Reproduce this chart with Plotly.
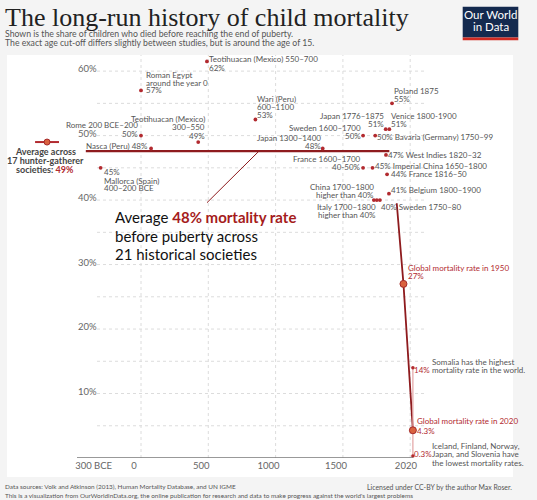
import plotly.graph_objects as go

# ---------------- data ----------------
society_names = [
    "Mallorca (Spain) 400–200 BCE", "Rome 200 BCE–200", "Roman Egypt", "Nasca (Peru)",
    "Teotihuacan (Mexico) 300–550", "Teotihuacan (Mexico) 550–700", "Wari (Peru) 600–1100",
    "Japan 1300–1400", "Sweden 1600–1700", "France 1600–1700", "Imperial China 1650–1800",
    "Bavaria (Germany) 1750–99", "China 1700–1800", "Italy 1700–1800", "Sweden 1750–80",
    "Japan 1776–1875", "West Indies 1820–32", "France 1816–50", "Belgium 1800–1900",
    "Venice 1800-1900", "Poland 1875",
]
society_years = [-300, 0, 0, 75, 425, 490, 850, 1350, 1650, 1650, 1720, 1740,
                 1730, 1752, 1775, 1818, 1820, 1828, 1842, 1845, 1865]
society_mortality = [45, 50, 57, 48, 49, 61.5, 52.5, 48, 50, 45, 45, 50,
                     40, 40, 40, 51, 47, 44, 41, 51, 55]

historical_avg = 47.6   # labelled "48%" in the chart
historical_avg_span = [-410, 1845]

hunter_avg = 49
hunter_pos = -698
hunter_spread = 89

global_years = [1900, 1950, 2020]
global_mortality = [39.5, 27, 4.3]

extreme_years = [2020, 2020]
extreme_mortality = [14, 0.3]   # Somalia (highest), lowest countries

x_tickvals = [-300, 0, 500, 1000, 1500, 2020]
x_ticktext = ["300 BCE", "0", "500", "1000", "1500", "2020"]
y_tickvals = [10, 20, 30, 40, 50, 60]
y_ticktext = ["10%", "20%", "30%", "40%", "50%", "60%"]
y_grid = [5, 10, 15, 20, 25, 30, 35, 40, 45, 50, 55, 60]
x_grid = [0, 500, 1000, 1500, 2000]

# label text lines + layout (anchor, x offset px, y offsets px per line)
society_labels = [
    (["45%", "Mallorca (Spain)", "400–200 BCE"], "left", 3, [-4, -12.7, -20.3]),
    (["Rome 200 BCE–200", "50%"], "right", -3, [10.4, 2]),
    (["Roman Egypt", "around the year 0", "57%"], "left", 5, [15.4, 7.7, 0]),
    (["Nasca (Peru) 48%"], "right", -3, [2.5]),
    (["Teotihuacan (Mexico)", "300–550", "49%"], "right", 7, [22.7, 14.7, 6.4]),
    (["Teotihuacan (Mexico) 550–700", "62%"], "left", 2, [2.7, -6.3]),
    (["Wari (Peru)", "600–1100", "53%"], "left", 2, [20.3, 12.7, 4.3]),
    (["Japan 1300–1400", "48%"], "right", -2, [10.5, 2.5]),
    (["Sweden 1600–1700", "50%"], "right", -2, [8, 0]),
    (["France 1600–1700", "40-50%"], "right", -2, [9, 0.7]),
    (["45% Imperial China 1650–1800"], "left", 2, [2]),
    (["50% Bavaria (Germany) 1750–99"], "left", 2, [-1]),
    (["China 1700–1800", "higher than 40%"], "right", 0, [13.4, 5.4]),
    (["Italy 1700–1800", "higher than 40%"], "right", -1, [-6.6, -15]),
    (["40% Sweden 1750–80"], "left", 1, [-6.6]),
    (["Japan 1776–1875", "51%"], "right", -2, [13, 4.7]),
    (["47% West Indies 1820–32"], "left", 2, [0]),
    (["44% France 1816–50"], "left", 4, [0]),
    (["41% Belgium 1800–1900"], "left", 2, [3.3]),
    (["Venice 1800-1900", "51%"], "left", 1.5, [13, 4.7]),
    (["Poland 1875", "55%"], "left", 2, [12.6, 4.3]),
]

# ---------------- layout geometry ----------------
W, H = 537, 500
PL, PR, PT, PB = 30, 427, 55, 458
X_RANGE = [-824.7, 2124.8]
Y_RANGE = [0, 62.5]

def px_x(px):
    return (px - PL) / (PR - PL)

def px_y(py):
    return (PB - py) / (PB - PT)

def yr_at(px):
    return X_RANGE[0] + (px - PL) / (PR - PL) * (X_RANGE[1] - X_RANGE[0])

GRAY = "#555555"
RED = "#b22a2f"
DARKRED = "#8e1b1e"
FONT = "Lato"
LBL = 8.0

fig = go.Figure()

# historical average line
fig.add_trace(go.Scatter(x=historical_avg_span, y=[historical_avg] * 2, mode="lines",
                         line=dict(color=DARKRED, width=2.3), hoverinfo="skip"))
# global trend
fig.add_trace(go.Scatter(x=global_years, y=global_mortality, mode="lines",
                         line=dict(color=DARKRED, width=1.8), hoverinfo="skip"))
# 2020 country range
fig.add_trace(go.Scatter(x=extreme_years, y=extreme_mortality, mode="lines+markers",
                         line=dict(color="#e3a3a3", width=1.2),
                         marker=dict(color=RED, size=3.5), hoverinfo="skip"))
# global markers 1950, 2020
fig.add_trace(go.Scatter(x=global_years[1:], y=global_mortality[1:], mode="markers",
                         marker=dict(color="#d9623f", size=7, line=dict(color="#a52a2a", width=1)),
                         hoverinfo="skip"))
# societies
fig.add_trace(go.Scatter(x=society_years, y=society_mortality, mode="markers",
                         marker=dict(color=RED, size=3.8), text=society_names,
                         hoverinfo="text"))
# hunter-gatherer
fig.add_trace(go.Scatter(x=[hunter_pos], y=[hunter_avg], mode="markers",
                         marker=dict(color="#d9623f", size=6, line=dict(color="#a52a2a", width=1)),
                         error_x=dict(type="constant", value=hunter_spread, color=RED,
                                      thickness=2, width=0),
                         hoverinfo="skip"))

shapes = []
# white panel
shapes.append(dict(type="rect", xref="paper", yref="paper", x0=px_x(7), x1=px_x(513),
                   y0=px_y(477), y1=px_y(55), fillcolor="white", line=dict(width=0), layer="below"))
# gridlines
for g in y_grid:
    shapes.append(dict(type="line", xref="x", yref="y", x0=yr_at(97), x1=X_RANGE[1], y0=g, y1=g,
                       line=dict(color="#dcdcdc", width=1, dash="dot"), layer="below"))
for g in x_grid:
    shapes.append(dict(type="line", xref="x", yref="y", x0=g, x1=g, y0=0, y1=Y_RANGE[1],
                       line=dict(color="#dcdcdc", width=1, dash="dot"), layer="below"))
# x axis line
shapes.append(dict(type="line", xref="x", yref="y", x0=yr_at(77), x1=yr_at(413), y0=0, y1=0,
                   line=dict(color="#777777", width=1.5)))
# connector from average line to annotation
shapes.append(dict(type="line", xref="x", yref="y", x0=yr_at(259), x1=yr_at(207),
                   y0=historical_avg, y1=39.6, line=dict(color=DARKRED, width=1)))
# logo
shapes.append(dict(type="rect", xref="paper", yref="paper", x0=px_x(462.7), x1=px_x(518.3),
                   y0=px_y(37.5), y1=px_y(6.7), fillcolor="#142a4f", line=dict(width=0)))
shapes.append(dict(type="rect", xref="paper", yref="paper", x0=px_x(462.7), x1=px_x(518.3),
                   y0=px_y(40.2), y1=px_y(37.5), fillcolor="#d02a22", line=dict(width=0)))

ann = []

def label(x, y, lines, anchor, dx, dys, color=GRAY, size=LBL):
    for t, dy in zip(lines, dys):
        ann.append(dict(x=x, y=y, xref="x", yref="y", text=t, showarrow=False,
                        xanchor=anchor, yanchor="middle", xshift=dx, yshift=dy,
                        borderpad=0, borderwidth=0,
                        font=dict(family=FONT, size=size, color=color)))

def ptext(px, py, text, anchor="left", size=9, color=GRAY, family=FONT):
    ann.append(dict(x=px_x(px), y=px_y(py), xref="paper", yref="paper", text=text,
                    showarrow=False, xanchor=anchor, yanchor="middle", borderpad=0,
                    borderwidth=0, font=dict(family=family, size=size, color=color)))

for (lines, anchor, dx, dys), xv, yv in zip(society_labels, society_years, society_mortality):
    label(xv, yv, lines, anchor, dx, dys)

# global labels
label(global_years[1], global_mortality[1], ["Global mortality rate in 1950", "27%"],
      "left", 5, [16, 8.3], color=RED)
label(global_years[2], global_mortality[2], ["Global mortality rate in 2020", "4.3%"],
      "left", 4, [9, -0.3], color=RED)
label(extreme_years[0], extreme_mortality[0], ["14%"], "left", 1.6, [-2.3], color=RED)
label(extreme_years[0], extreme_mortality[0],
      ["Somalia has the highest", "mortality rate in the world."], "left", 19.3, [5.7, -2.3])
label(extreme_years[1], extreme_mortality[1], ["0.3%"], "left", 1.6, [2.3], color=RED)
label(extreme_years[1], extreme_mortality[1],
      ["Iceland, Finland, Norway,", "Japan, and Slovenia have", "the lowest mortality rates."],
      "left", 19.3, [9.7, 1.7, -7])

# hunter-gatherer text
ptext(45, 151.3, "<b>Average across</b>", "center", 9, "#444444")
ptext(45, 160, "<b>17 hunter-gatherer</b>", "center", 9, "#444444")
ptext(45, 169.3, "<b>societies: </b><span style='color:%s'><b>49%%</b></span>" % RED,
      "center", 9, "#444444")

# big annotation
ptext(115, 217, "Average <span style='color:#a51c1c'><b>48% mortality rate</b></span>",
      "left", 15, "#111111")
ptext(115, 236, "before puberty across", "left", 15, "#111111")
ptext(115, 254, "21 historical societies", "left", 15, "#111111")

# title & subtitle
ptext(5, 17, "The long-run history of child mortality", "left", 26, "#222222", "Liberation Serif")
ptext(5, 33.3, "Shown is the share of children who died before reaching the end of puberty.",
      "left", 8.7, GRAY)
ptext(5, 42.7, "The exact age cut-off differs slightly between studies, but is around the age of 15.",
      "left", 8.7, GRAY)

# logo text
ptext(490.5, 15, "Our World", "center", 11.5, "white")
ptext(490.5, 26.5, "in Data", "center", 11.5, "white")

# footer
ptext(5, 486.7, "Data sources: Volk and Atkinson (2013), Human Mortality Database, and UN IGME",
      "left", 6.4, GRAY)
ptext(5, 495.3, "This is a visualization from OurWorldinData.org, the online publication for research "
      "and data to make progress against the world's largest problems", "left", 6.4, GRAY)
ptext(512.3, 486.7, "Licensed under CC-BY by the author Max Roser.", "right", 6.9, GRAY)

fig.update_layout(
    width=W, height=H,
    margin=dict(l=PL, r=W - PR, t=PT, b=H - PB, pad=0),
    paper_bgcolor="#f4f4f4", plot_bgcolor="rgba(0,0,0,0)",
    showlegend=False,
    shapes=shapes, annotations=ann,
    font=dict(family=FONT, color=GRAY),
    xaxis=dict(range=X_RANGE, tickvals=x_tickvals, ticktext=x_ticktext, showgrid=False,
               zeroline=False, showline=False, ticks="", ticklabelshift=-7,
               tickfont=dict(family=FONT, size=9.5, color="#666666")),
    yaxis=dict(range=Y_RANGE, tickvals=y_tickvals, ticktext=y_ticktext, showgrid=False,
               zeroline=False, showline=False, ticks="", ticklabelposition="inside",
               ticklabelstandoff=45, ticklabelshift=-2,
               tickfont=dict(family=FONT, size=9.5, color="#666666")),
)

fig.write_html("out.html", config={"displayModeBar": False},
               post_script="document.body.style.margin='0';document.body.style.overflow='hidden';")
